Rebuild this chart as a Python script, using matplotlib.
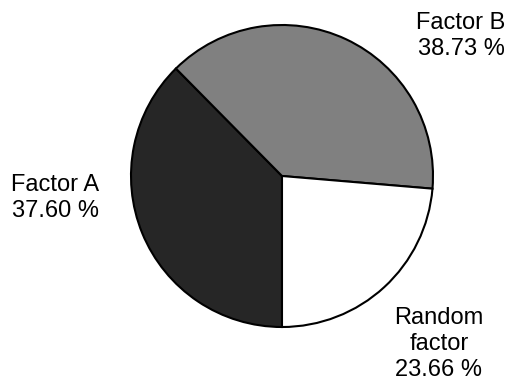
import numpy as np
import matplotlib.pyplot as plt

# share of variance per source
labels = ['Factor A', 'Factor B', 'Random\nfactor']
shares = [37.60, 38.73, 23.66]
colors = ['#262626', '#808080', '#ffffff']

# label anchor points (pixels, origin bottom-left)
label_xy = [(55.5, 386 - 198), (461, 386 - 36), (439, 386 - 344)]

plt.rcParams['font.family'] = ['Liberation Sans', 'DejaVu Sans']

fig = plt.figure(figsize=(5.09, 3.86), dpi=100)
ax = fig.add_axes([0, 0, 1, 1])
ax.pie(shares, colors=colors, startangle=270, counterclock=False,
       radius=151, center=(282, 386 - 176),
       wedgeprops=dict(edgecolor='black', linewidth=1.5))
for lab, val, (x, y) in zip(labels, shares, label_xy):
    ax.text(x, y, '%s\n%.2f %%' % (lab, val), ha='center', va='center',
            multialignment='center', fontsize=17, linespacing=1.22)
ax.set_xlim(0, 509)
ax.set_ylim(0, 386)
ax.set_aspect('auto')
ax.axis('off')
fig.savefig('out.png', dpi=100)
